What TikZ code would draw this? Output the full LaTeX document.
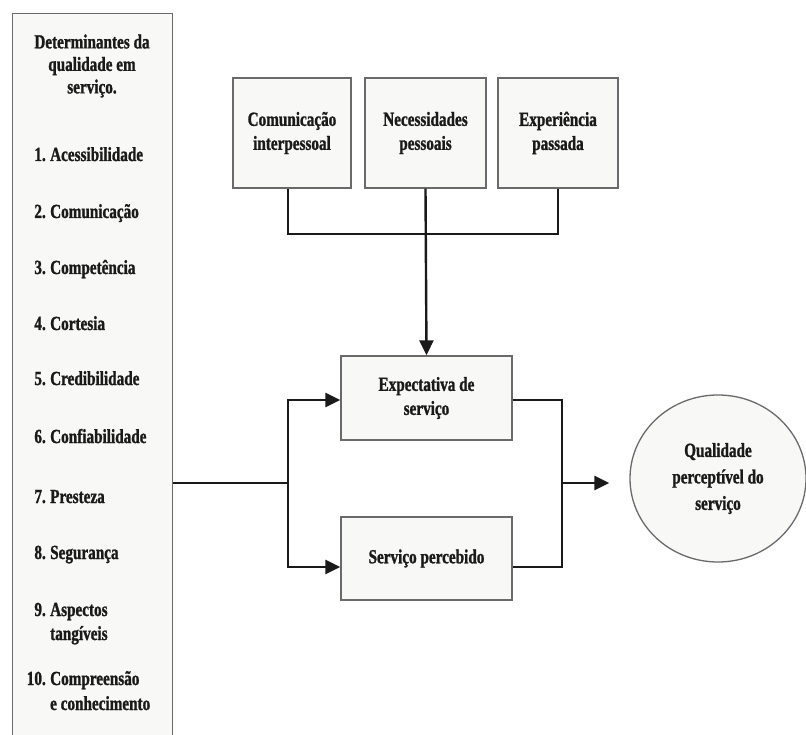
\documentclass[tikz,border=0pt]{standalone}
\usepackage{fontspec}
\setmainfont{Liberation Serif}[FakeStretch=0.76, BoldFeatures={FakeBold=1.2}]
\usetikzlibrary{arrows.meta,shapes.geometric,positioning}
\definecolor{boxfill}{HTML}{F8F8F6}
\definecolor{boxline}{HTML}{6A6A6A}
\definecolor{ink}{HTML}{1A1A1A}
\tikzset{
  txt/.style={font=\bfseries\fontsize{20}{24}\selectfont, text=ink, inner sep=0pt},
  panel/.style={draw=boxline, fill=boxfill, line width=1.3pt, rectangle, inner sep=0pt},
  link/.style={draw=ink, line width=2.4pt},
  tip/.style={-{Triangle[length=15pt,width=14pt]}},
  item/.style={txt, anchor=base west},
  num/.style={txt, anchor=base east},
}
\begin{document}
\begin{tikzpicture}[x=1pt,y=-1pt]
\clip (0,0) rectangle (806,735);
\fill[white] (0,0) rectangle (806,735);

% determinants panel (runs past the lower edge)
\node[panel, anchor=north west, minimum width=160pt, minimum height=740pt] (det) at (12,13) {};
\node[txt, align=center, font=\bfseries\fontsize{20}{22.5}\selectfont] (dettitle) at (92,66)
  {Determinantes da\\qualidade em\\serviço.};
% list items, placed on their baselines
\node[num] (n1) at (46,161) {1.};   \node[item] (i1) at (50,161) {Acessibilidade};
\node[num] (n2) at (46,218) {2.};   \node[item] (i2) at (50,218) {Comunicação};
\node[num] (n3) at (46,274) {3.};   \node[item] (i3) at (50,274) {Competência};
\node[num] (n4) at (46,330) {4.};   \node[item] (i4) at (50,330) {Cortesia};
\node[num] (n5) at (46,385) {5.};   \node[item] (i5) at (50,385) {Credibilidade};
\node[num] (n6) at (46,443) {6.};   \node[item] (i6) at (50,443) {Confiabilidade};
\node[num] (n7) at (46,503) {7.};   \node[item] (i7) at (50,503) {Presteza};
\node[num] (n8) at (46,559) {8.};   \node[item] (i8) at (50,559) {Segurança};
\node[num] (n9) at (46,616) {9.};   \node[item] (i9) at (50,616) {Aspectos};
\node[item] (i9b) at (50,640) {tangíveis};
\node[num] (n10) at (46,685) {10.}; \node[item] (i10) at (50,685) {Compreensão};
\node[item] (i10b) at (50,710) {e conhecimento};

% antecedents of the expected service
\tikzset{topbox/.style={panel, minimum height=110pt, txt, align=center}}
\node[topbox, minimum width=118pt] (com) at (292,133) {Comunicação\\interpessoal};
\node[topbox, minimum width=121pt] (nec) at (425.5,133) {Necessidades\\pessoais};
\node[topbox, minimum width=120pt] (exp) at (558,133) {Experiência\\passada};

% expected and perceived service
\node[panel, minimum width=171pt, minimum height=84pt, txt, align=center] (esp) at (426.5,398) {Expectativa de\\serviço};
\node[panel, minimum width=171pt, minimum height=83pt, txt, align=center] (per) at (426.5,558.5) {Serviço percebido};

% perceived quality
\node[draw=boxline, fill=boxfill, line width=1.3pt, ellipse, minimum width=176pt, minimum height=167pt,
      txt, align=center, font=\bfseries\fontsize{20}{26.5}\selectfont] (qual) at (718,478.5)
  {Qualidade\\perceptível do\\serviço};

% connectors
\coordinate (join) at (288,234);
\coordinate (split) at (288,483);
\coordinate (merge) at (562,483);
\draw[link] (com.south -| join) -- (join) -- (join -| exp.south) -- (exp.south);
\draw[link, tip] (nec.south) -- (esp.north);
\draw[link] (det.east |- split) -- (split);
\draw[link, tip] ([yshift=-1pt]split) |- ([yshift=-2pt]esp.west);
\draw[link, tip] ([yshift=1pt]split) |- ([yshift=-8.5pt]per.west);
\draw[link] ([yshift=-2pt]esp.east) -| ([yshift=-1pt]merge);
\draw[link] ([yshift=-8.5pt]per.east) -| ([yshift=1pt]merge);
\draw[link, tip, shorten >=20pt] (merge) -- (merge -| qual.west);
\end{tikzpicture}
\end{document}
